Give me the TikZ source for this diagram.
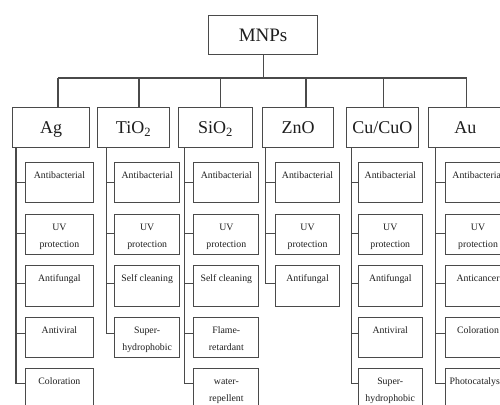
\documentclass[tikz,border=0pt]{standalone}
\usepackage{fontspec}
\setmainfont{Liberation Serif}
\definecolor{ln}{HTML}{4A4A4A}
\definecolor{tx}{HTML}{1E1E1E}
\newcommand\cbx[2]{\parbox[b][40.5pt][t]{#1pt}{\centering\fontsize{9.8pt}{17.4pt}\selectfont\rule{0pt}{16pt}#2}}
\tikzset{
  topbox/.style={draw=ln, line width=1.1pt, text=tx, inner sep=0pt, anchor=north west,
    minimum height=39pt, font=\fontsize{19pt}{22pt}\selectfont, text height=12.5pt, text depth=0pt},
  lvbox/.style={draw=ln, line width=1.1pt, text=tx, inner sep=0pt, anchor=north west,
    minimum height=40pt, font=\fontsize{18pt}{22pt}\selectfont, text height=11.9pt, text depth=0pt},
  chbox/.style={draw=ln, line width=1.1pt, text=tx, inner sep=0pt, anchor=north west},
  link/.style={draw=ln, line width=1.1pt}
}
\begin{document}
\begin{tikzpicture}[x=1pt,y=-1pt]
\useasboundingbox[fill=white] (0,0) rectangle (500,404);
\clip (0,0) rectangle (500,404);
% root
\node[topbox, minimum width=109pt] (mnps) at (208,15) {MNPs};
% level 1
\node[lvbox, minimum width=76.7pt] (ag) at (12.3,107.3) {Ag};
\node[lvbox, minimum width=72.6pt] (ti) at (96.7,107.3) {TiO\textsubscript{2}};
\node[lvbox, minimum width=73.5pt] (si) at (178.3,107.3) {SiO\textsubscript{2}};
\node[lvbox, minimum width=71.6pt] (zn) at (261.7,107.3) {ZnO};
\node[lvbox, minimum width=72pt] (cu) at (345.7,107.3) {Cu/CuO};
\node[lvbox, minimum width=73pt] (au) at (428.3,107.3) {Au};
% junctions on the bus
\coordinate (jag) at (58,78);
\coordinate (jti) at (139,78);
\coordinate (jsi) at (220.7,78);
\coordinate (jzn) at (306,78);
\coordinate (jcu) at (383.3,78);
\coordinate (jau) at (466.7,78);
\draw[link] (mnps.south) -- (mnps.south |- jag);
\draw[link] (jag) -- (jau);
\foreach \n in {ag,ti,si,zn,cu,au}{
  \draw[link] (j\n) -- (j\n |- \n.north);
}
% Ag children
\node[chbox] (ag1) at (25,161.7) {\cbx{67.7}{Antibacterial}};
\node[chbox] (ag2) at (25,213.5) {\cbx{67.7}{UV\\protection}};
\node[chbox] (ag3) at (25,265.2) {\cbx{67.7}{Antifungal}};
\node[chbox] (ag4) at (25,316.6) {\cbx{67.7}{Antiviral}};
\node[chbox] (ag5) at (25,367.6) {\cbx{67.7}{Coloration}};
% TiO2 children
\node[chbox] (ti1) at (114.3,161.7) {\cbx{64.7}{Antibacterial}};
\node[chbox] (ti2) at (114.3,213.5) {\cbx{64.7}{UV\\protection}};
\node[chbox] (ti3) at (114.3,265.2) {\cbx{64.7}{Self cleaning}};
\node[chbox] (ti4) at (114.3,316.6) {\cbx{64.7}{Super-\\hydrophobic}};
% SiO2 children
\node[chbox] (si1) at (193.3,161.7) {\cbx{65}{Antibacterial}};
\node[chbox] (si2) at (193.3,213.5) {\cbx{65}{UV\\protection}};
\node[chbox] (si3) at (193.3,265.2) {\cbx{65}{Self cleaning}};
\node[chbox] (si4) at (193.3,316.6) {\cbx{65}{Flame-\\retardant}};
\node[chbox] (si5) at (193.3,367.6) {\cbx{65}{water-\\repellent}};
% ZnO children
\node[chbox] (zn1) at (274.7,161.7) {\cbx{64.6}{Antibacterial}};
\node[chbox] (zn2) at (274.7,213.5) {\cbx{64.6}{UV\\protection}};
\node[chbox] (zn3) at (274.7,265.2) {\cbx{64.6}{Antifungal}};
% Cu/CuO children
\node[chbox] (cu1) at (357.7,161.7) {\cbx{64}{Antibacterial}};
\node[chbox] (cu2) at (357.7,213.5) {\cbx{64}{UV\\protection}};
\node[chbox] (cu3) at (357.7,265.2) {\cbx{64}{Antifungal}};
\node[chbox] (cu4) at (357.7,316.6) {\cbx{64}{Antiviral}};
\node[chbox] (cu5) at (357.7,367.6) {\cbx{64}{Super-\\hydrophobic}};
% Au children
\node[chbox] (au1) at (445,161.7) {\cbx{65}{Antibacterial}};
\node[chbox] (au2) at (445,213.5) {\cbx{65}{UV\\protection}};
\node[chbox] (au3) at (445,265.2) {\cbx{65}{Anticancer}};
\node[chbox] (au4) at (445,316.6) {\cbx{65}{Coloration}};
\node[chbox] (au5) at (445,367.6) {\cbx{65}{Photocatalysis}};
% spines
\coordinate (sag) at ([xshift=3.7pt]ag.south west);
\coordinate (sti) at ([xshift=10pt]ti.south west);
\coordinate (ssi) at ([xshift=6.2pt]si.south west);
\coordinate (szn) at ([xshift=4pt]zn.south west);
\coordinate (scu) at ([xshift=6pt]cu.south west);
\coordinate (sau) at ([xshift=7.4pt]au.south west);
\foreach \n/\k in {ag/5,ti/4,si/5,zn/3,cu/5,au/5}{
  \coordinate (tend) at ([yshift={1.2*(\k-1)}]\n\k.west);
  \draw[link] (s\n) -- (s\n |- tend);
  \foreach \i in {1,...,\k}{
    \coordinate (tk) at ([yshift={1.2*(\i-1)}]\n\i.west);
    \draw[link] (s\n |- tk) -- (tk);
  }
}
\end{tikzpicture}
\end{document}
